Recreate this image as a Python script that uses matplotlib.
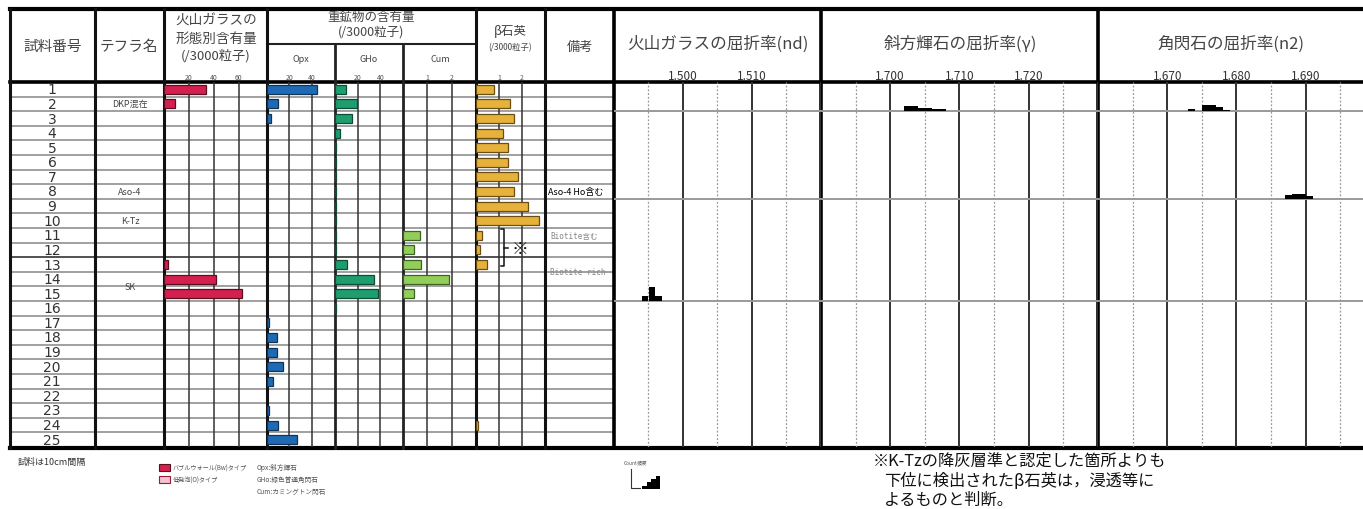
import numpy as np
import matplotlib.pyplot as plt
from matplotlib.patches import Rectangle

plt.rcParams['font.family'] = ['Noto Sans CJK JP', 'DejaVu Sans']

W, H = 1363, 510

# ---- data ----
samples = np.arange(1, 26)
tephra_rows = [2, 8, 10, 14.5]
tephra_names = ['DKP混在', 'Aso-4', 'K-Tz', 'SK']

glass_bw = [34, 9, 0, 0, 0, 0, 0, 0, 0, 0, 0, 0, 3, 42, 63, 0, 0, 0, 0, 0, 0, 0, 0, 0, 0]
opx = [45, 10, 4, 0, 0, 0, 0, 0, 0, 0, 0, 0, 0, 0, 0, 0, 2, 9, 9, 14, 5, 0, 2, 10, 27]
gho = [10, 19, 15, 4, 0.8, 0.8, 0.8, 0.8, 0.8, 0.8, 0.8, 0.8, 11, 34, 38, 0.8, 0, 0, 0, 0, 0, 0, 0, 0, 0]
cum = [0, 0, 0, 0, 0, 0, 0, 0, 0, 0, 0.7, 0.45, 0.75, 1.9, 0.45, 0, 0, 0, 0, 0, 0, 0, 0, 0, 0]
beta_qz = [0.78, 1.48, 1.65, 1.17, 1.4, 1.4, 1.83, 1.65, 2.26, 2.74, 0.26, 0.17, 0.48,
           0, 0, 0, 0, 0, 0, 0, 0, 0, 0, 0.1, 0]

# refractive index histograms: (row baseline, bin starts, counts)
glass_nd_row = 15
glass_nd_bins = [1.494, 1.495, 1.496]
glass_nd_counts = [3, 8, 3]

opx_g_row = 2
opx_g_bins = [1.702, 1.703, 1.704, 1.705, 1.706, 1.707]
opx_g_counts = [3, 3, 2, 2, 1, 1]

hb_rows = [2, 2, 2, 2, 2, 8, 8, 8, 8]
hb_bins = [1.673, 1.675, 1.676, 1.677, 1.678, 1.687, 1.688, 1.689, 1.690]
hb_counts = [1, 3.5, 3.5, 2.5, 0.5, 2, 3, 2.5, 1.5]

remarks_rows = [8, 11, 13.5]
remarks = ['Aso-4 Ho含む', 'Biotite含む', 'Biotite rich']

# ---- layout helpers (pixels) ----
TOP, HDR, BOT = 10, 83, 448

fig = plt.figure(figsize=(W / 100, H / 100), dpi=100)
base = fig.add_axes([0, 0, 1, 1])
base.set_xlim(0, W)
base.set_ylim(H, 0)
base.axis('off')


def px_axes(x0, x1, y0=HDR, y1=BOT):
    ax = fig.add_axes([x0 / W, 1 - y1 / H, (x1 - x0) / W, (y1 - y0) / H])
    ax.set_ylim(25.5, 0.5)
    ax.patch.set_alpha(0)
    for s in ax.spines.values():
        s.set_visible(False)
    ax.set_yticks([])
    ax.xaxis.tick_top()
    ax.tick_params(axis='x', length=0, pad=1, labelsize=5, labelcolor='#555')
    return ax


# row separators
for k in range(1, 25):
    y = HDR + k * (BOT - HDR) / 25
    if k == 12:
        base.plot([10, 545], [y, y], color='#222', lw=1.1)
        base.plot([545, 614], [y, y], color='#999', lw=1.3)
    else:
        base.plot([10, 614], [y, y], color='#999', lw=1.3)

# bar columns
cols = [
    (164, 266, (0, 82), [20, 40, 60], glass_bw, '#d41f4f', '#5a1020'),
    (267, 334, (0, 60), [20, 40], opx, '#1e6ab4', '#10335a'),
    (335, 403, (0, 60), [20, 40], gho, '#1e9e6e', '#0d4d35'),
    (403, 476, (0, 3), [1, 2], cum, '#92cf5a', '#3d6424'),
    (476, 545, (0, 3), [1, 2], beta_qz, '#e6b23c', '#6b4f12'),
]
bar_axes = []
for x0, x1, xl, ticks, vals, fc, ec in cols:
    ax = px_axes(x0, x1)
    ax.set_xlim(*xl)
    ax.set_xticks(ticks)
    for t in ticks:
        ax.axvline(t, color='#333', lw=1.1, zorder=1)
    vals = np.array(vals, dtype=float)
    keep = vals > 0
    ax.barh(samples[keep], vals[keep], height=0.62, color=fc, edgecolor=ec, linewidth=0.9, zorder=3)
    bar_axes.append(ax)

# bracket + note mark in the beta quartz column
axb = bar_axes[-1]
axb.plot([1.1, 1.22, 1.22, 1.1], [10.6, 10.6, 13.1, 13.1], color='#111', lw=1.1, clip_on=False, zorder=5)
axb.plot([1.22, 1.4], [11.85, 11.85], color='#111', lw=1.1, clip_on=False, zorder=5)
axb.text(1.9, 11.9, '※', ha='center', va='center', fontsize=12, color='#111', zorder=5)

# refractive index panels
panels = [
    (614, 821, (1.490, 1.520), [1.500, 1.510]),
    (821, 1098, (1.690, 1.730), [1.700, 1.710, 1.720]),
    (1098, 1363, (1.660, 1.660 + 0.04 * 265 / 277), [1.670, 1.680, 1.690]),
]
ri_axes = []
for x0, x1, xl, ticks in panels:
    ax = px_axes(x0, x1)
    ax.set_xlim(*xl)
    ax.set_xticks(ticks)
    ax.set_xticklabels(['%.3f' % t for t in ticks])
    ax.tick_params(axis='x', labelsize=8.5, labelcolor='#333', pad=0)
    for t in np.arange(xl[0] + 0.005, xl[1], 0.005):
        if abs(round(t * 1000) % 10) < 1e-6:
            ax.axvline(t, color='#333', lw=1.4, zorder=1)
        else:
            ax.axvline(t, color='#999', lw=0.9, ls=(0, (1.5, 1.5)), zorder=1)
    for r in [2.5, 8.5, 15.5]:
        ax.axhline(r, color='#999', lw=1.4, zorder=1)
    ri_axes.append(ax)

u = 0.12  # rows per count
ri_axes[0].bar(glass_nd_bins, -np.array(glass_nd_counts) * u, width=0.001, bottom=glass_nd_row + 0.5,
               align='edge', color='k', zorder=4)
ri_axes[1].bar(opx_g_bins, -np.array(opx_g_counts) * u, width=0.001, bottom=opx_g_row + 0.5,
               align='edge', color='k', zorder=4)
ri_axes[2].bar(hb_bins, -np.array(hb_counts) * u, width=0.001, bottom=np.array(hb_rows) + 0.5,
               align='edge', color='k', zorder=4)

# table frame
for x in [10, 95, 164, 267, 476, 545]:
    base.plot([x, x], [TOP, BOT + 1], color='#111', lw=2.2, zorder=6)
for x in [335, 403]:
    base.plot([x, x], [45, BOT + 1], color='#222', lw=2.0, zorder=6)
for x in [614, 821, 1098]:
    base.plot([x, x], [TOP, BOT + 1], color='#000', lw=2.6, zorder=6)
base.plot([267, 476], [45, 45], color='#222', lw=1.5)
base.plot([10, W], [TOP, TOP], color='#000', lw=3)
base.plot([10, W], [HDR, HDR], color='#000', lw=2.6)
base.plot([10, W], [BOT + 1, BOT + 1], color='#000', lw=3)

# header text
hc = '#444'
base.text(53, 47, '試料番号', ha='center', va='center', fontsize=10.5, color=hc)
base.text(129, 47, 'テフラ名', ha='center', va='center', fontsize=10.5, color=hc)
base.text(216, 21, '火山ガラスの', ha='center', va='center', fontsize=9.8, color=hc)
base.text(216, 39, '形態別含有量', ha='center', va='center', fontsize=9.8, color=hc)
base.text(216, 56, '(/3000粒子)', ha='center', va='center', fontsize=9.5, color=hc)
base.text(371, 17, '重鉱物の含有量', ha='center', va='center', fontsize=9, color=hc)
base.text(371, 32, '(/3000粒子)', ha='center', va='center', fontsize=9, color=hc)
base.text(301, 59, 'Opx', ha='center', va='center', fontsize=6.5, color=hc)
base.text(369, 59, 'GHo', ha='center', va='center', fontsize=6.5, color=hc)
base.text(440, 59, 'Cum', ha='center', va='center', fontsize=6.5, color=hc)
base.text(510, 32, 'β石英', ha='center', va='center', fontsize=9, color=hc)
base.text(510, 48, '(/3000粒子)', ha='center', va='center', fontsize=6, color=hc)
base.text(580, 47, '備考', ha='center', va='center', fontsize=9.5, color=hc)
base.text(718, 44, '火山ガラスの屈折率(nd)', ha='center', va='center', fontsize=12, color=hc)
base.text(960, 44, '斜方輝石の屈折率(γ)', ha='center', va='center', fontsize=12, color=hc)
base.text(1231, 44, '角閃石の屈折率(n2)', ha='center', va='center', fontsize=12, color=hc)

# row labels
ax_lab = px_axes(10, 164)
ax_lab.set_xlim(10, 164)
ax_lab.set_xticks([])
for s in samples:
    ax_lab.text(52, s, str(s), ha='center', va='center', fontsize=10, color='#333',
                family=['Liberation Sans Narrow', 'DejaVu Sans'])
for r, name in zip(tephra_rows, tephra_names):
    ax_lab.text(130, r, name, ha='center', va='center', fontsize=6.5, color='#444')

ax_rem = px_axes(545, 614)
ax_rem.set_xlim(545, 614)
ax_rem.set_xticks([])
ax_rem.text(548, remarks_rows[0], remarks[0], ha='left', va='center', fontsize=6.5, color='#000',
            bbox=dict(facecolor='white', edgecolor='none', pad=0.5), zorder=7)
for r, t in zip(remarks_rows[1:], remarks[1:]):
    ax_rem.text(550, r, t, ha='left', va='center', fontsize=5.5, color='#888',
                family=['DejaVu Sans Mono', 'Noto Sans CJK JP'])

# footer
base.text(18, 462, '試料は10cm間隔', ha='left', va='center', fontsize=6.5, color='#333')
base.add_patch(Rectangle((159, 465), 11, 7, facecolor='#d41f4f', edgecolor='#5a1020', lw=0.8))
base.add_patch(Rectangle((159, 477), 11, 7, facecolor='#f5c3d0', edgecolor='#a01838', lw=0.8))
base.text(173, 468.5, 'バブルウォール(Bw)タイプ', ha='left', va='center', fontsize=4.4, color='#555')
base.text(173, 480.5, '低発泡(O)タイプ', ha='left', va='center', fontsize=4.4, color='#555')
base.text(257, 468, 'Opx:斜方輝石', ha='left', va='center', fontsize=4.8, color='#555')
base.text(257, 480, 'GHo:緑色普通角閃石', ha='left', va='center', fontsize=4.8, color='#555')
base.text(257, 492, 'Cum:カミングトン閃石', ha='left', va='center', fontsize=4.8, color='#555')

# count legend icon
icon_counts = [1, 2, 3, 4]
base.text(624, 463, 'Count頻度', ha='left', va='center', fontsize=3.5, color='#555')
ax_ic = fig.add_axes([638 / W, 1 - 490 / H, 22 / W, 14 / H])
ax_ic.bar(np.arange(len(icon_counts)), icon_counts, width=1.0, align='edge', color='k')
ax_ic.set_xlim(-1, 4)
ax_ic.set_ylim(0, 4.2)
ax_ic.axis('off')
base.plot([631, 631, 640], [470, 489, 489], color='#333', lw=0.8)

# note
base.text(873, 461, '※K-Tzの降灰層準と認定した箇所よりも', ha='left', va='center', fontsize=11.7, color='#111')
base.text(884, 481, '下位に検出されたβ石英は，浸透等に', ha='left', va='center', fontsize=11.7, color='#111')
base.text(884, 500, 'よるものと判断。', ha='left', va='center', fontsize=11.7, color='#111')

fig.savefig('out.png', dpi=100)
